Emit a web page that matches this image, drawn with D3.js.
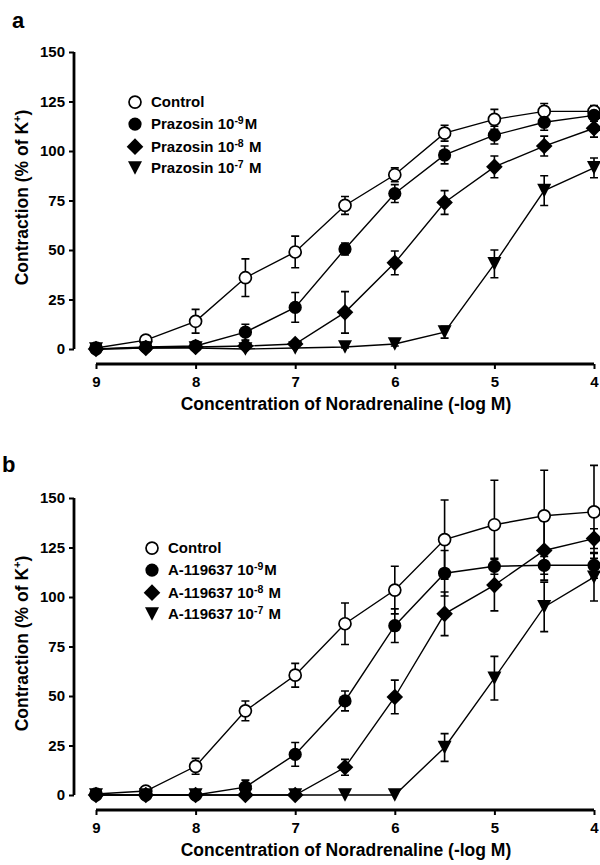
<!DOCTYPE html>
<html>
<head>
<meta charset="utf-8">
<script src="https://cdn.jsdelivr.net/npm/d3@7"></script>
<style>
  html, body { margin: 0; padding: 0; background: #fff; }
  svg { display: block; }
  text { font-family: Arial, "Liberation Sans", Helvetica, sans-serif; font-weight: bold; fill: #000; }
</style>
</head>
<body>
<script>
// ---------- data ----------
const logConc = [9, 8.5, 8, 7.5, 7, 6.5, 6, 5.5, 5, 4.5, 4];
const xTicks = [9, 8, 7, 6, 5, 4];
const yTicks = [0, 25, 50, 75, 100, 125, 150];

// Panel a: Prazosin
const aControl    = [0.5, 4.5, 14, 36, 49, 72.5, 88, 109, 116, 120, 120];
const aControlErr = [0.5, 1, 6, 9.5, 8, 4.5, 3.5, 4, 5, 4, 3];
const aPraz9      = [0, 1, 1.5, 8.5, 21, 50.5, 78.5, 98, 108, 114.5, 118];
const aPraz9Err   = [0, 0.5, 1, 4, 7.5, 3, 4.5, 4.5, 4.5, 4, 3];
const aPraz8      = [0, 0.5, 1, 1.5, 2.5, 18.5, 43.5, 74, 92, 102.5, 111.5];
const aPraz8Err   = [0, 0, 0.5, 1, 1, 10.5, 6, 6, 5.5, 5, 4.5];
const aPraz7      = [0, 0.5, 0.5, 0, 0.5, 1, 2.5, 8.5, 43, 80, 91.5];
const aPraz7Err   = [0, 0, 0, 0, 0, 0.5, 1, 3, 7, 7.5, 5];

// Panel b: A-119637
const bControl    = [0.5, 2, 14.5, 42.5, 60.5, 86.5, 103.5, 129, 136.5, 141, 143];
const bControlErr = [0, 1, 4, 5, 6, 10.5, 12, 20, 22.5, 23, 23.5];
const bA9         = [0, 0, 0, 4, 20.5, 47.5, 85.5, 112, 115.5, 116, 116];
const bA9Err      = [0, 0, 0, 3.5, 6, 5, 8.5, 11.5, 4, 4.5, 6.5];
const bA8         = [0, 0, 0, 0, 0, 14, 49.5, 91.5, 106, 123.5, 129.5];
const bA8Err      = [0, 0, 0, 0, 0, 4, 8.5, 11, 13, 15, 5];
const bA7         = [0, 0, 0, 0, 0, 0, 0, 24, 59, 95, 110];
const bA7Err      = [0, 0, 0, 0, 0, 0, 0, 7, 11, 12.5, 12];

const aLabels = [["Prazosin 10", "-9", "M"], ["Prazosin 10", "-8", " M"], ["Prazosin 10", "-7", " M"]];
const bLabels = [["A-119637 10", "-9", "M"], ["A-119637 10", "-8", " M"], ["A-119637 10", "-7", " M"]];

// ---------- drawing ----------
const W = 600, H = 865;
const svg = d3.select("body").append("svg").attr("width", W).attr("height", H);

const markerTypes = ["openCircle", "circle", "diamond", "triangle"];

function drawMarker(g, type, cx, cy) {
  if (type === "openCircle") {
    g.append("circle").attr("cx", cx).attr("cy", cy).attr("r", 6)
      .attr("fill", "#fff").attr("stroke", "#000").attr("stroke-width", 1.7);
  } else if (type === "circle") {
    g.append("circle").attr("cx", cx).attr("cy", cy).attr("r", 6.6).attr("fill", "#000");
  } else if (type === "diamond") {
    const d = 8.3;
    g.append("path").attr("d", `M${cx},${cy - d}L${cx + d},${cy}L${cx},${cy + d}L${cx - d},${cy}Z`).attr("fill", "#000");
  } else {
    const hw = 7, hh = 6.8;
    g.append("path").attr("d", `M${cx - hw},${cy - hh}L${cx + hw},${cy - hh}L${cx},${cy + hh}Z`).attr("fill", "#000");
  }
}

function drawPanel(opt) {
  const x = d3.scaleLinear().domain([9, 4]).range([96, 594]);
  const y = d3.scaleLinear().domain([0, 150]).range([opt.y0, opt.y0 - 297]);
  const g = svg.append("g");

  // panel letter
  g.append("text").attr("x", opt.letterX).attr("y", opt.letterY).style("font-size", "22px").text(opt.letter);

  // y axis
  const yAxis = d3.axisLeft(y).tickValues(yTicks).tickSize(5).tickSizeOuter(0).tickPadding(4);
  const ya = g.append("g").attr("transform", "translate(74,0)").call(yAxis);
  ya.select(".domain").attr("stroke", "#000").attr("stroke-width", 2.8)
    .attr("d", `M0,${y(150)}V${y(0)}`);
  ya.selectAll(".tick line").attr("stroke", "#000").attr("stroke-width", 2);
  ya.selectAll(".tick text").style("font-size", "15px").style("font-family", "Arial, 'Liberation Sans', sans-serif").style("font-weight", "bold").attr("fill", "#000");

  // x axis
  const xAxisY = opt.y0 + 15;
  const xAxis = d3.axisBottom(x).tickValues(xTicks).tickSize(5).tickSizeOuter(0).tickPadding(7).tickFormat(d3.format("d"));
  const xa = g.append("g").attr("transform", `translate(0,${xAxisY})`).call(xAxis);
  xa.select(".domain").attr("stroke", "#000").attr("stroke-width", 2.8)
    .attr("d", `M${x(9)},0H${x(4)}`);
  xa.selectAll(".tick line").attr("stroke", "#000").attr("stroke-width", 2);
  xa.selectAll(".tick text").style("font-size", "15px").style("font-family", "Arial, 'Liberation Sans', sans-serif").style("font-weight", "bold").attr("fill", "#000");

  // axis titles
  g.append("text").attr("x", 346).attr("y", xAxisY + 46).attr("text-anchor", "middle")
    .style("font-size", "17.5px").text("Concentration of Noradrenaline (-log M)");
  const yt = g.append("text").attr("transform", `translate(28,${y(75) - 3}) rotate(-90)`)
    .attr("text-anchor", "middle").style("font-size", "17.5px");
  yt.append("tspan").text("Contraction (% of K");
  yt.append("tspan").attr("dy", -7).style("font-size", "11px").text("+");
  yt.append("tspan").attr("dy", 7).text(")");

  // series
  const line = d3.line().x(d => x(d[0])).y(d => y(d[1]));
  const plot = g.append("g");
  opt.series.forEach((s) => {
    const pts = logConc.map((c, i) => [c, s.values[i], s.errors[i]]);
    plot.append("path").attr("d", line(pts)).attr("fill", "none")
      .attr("stroke", "#000").attr("stroke-width", 1.4);
  });
  opt.series.forEach((s) => {
    const pts = logConc.map((c, i) => [c, s.values[i], s.errors[i]]);
    pts.forEach(p => {
      if (p[2] > 0) {
        const cx = x(p[0]), top = y(p[1] + p[2]), bot = y(p[1] - p[2]);
        plot.append("path").attr("d", `M${cx},${top}V${bot}M${cx - 4},${top}H${cx + 4}M${cx - 4},${bot}H${cx + 4}`)
          .attr("stroke", "#000").attr("stroke-width", 1.6).attr("fill", "none");
      }
    });
  });
  opt.series.forEach((s, si) => {
    logConc.forEach((c, i) => drawMarker(plot, markerTypes[si], x(c), y(s.values[i])));
  });

  // legend
  const lg = g.append("g");
  const rowsY = [y(124.7), y(113.6), y(102.2), y(91.4)];
  const names = [["Control", "", ""]].concat(opt.labels);
  names.forEach((n, i) => {
    drawMarker(lg, markerTypes[i], opt.legendX, rowsY[i]);
    const t = lg.append("text").attr("x", opt.legendX + 16).attr("y", rowsY[i] + 5).style("font-size", "15px");
    t.append("tspan").text(n[0]);
    if (n[1]) {
      t.append("tspan").attr("dy", -5).style("font-size", "10.5px").text(n[1]);
      t.append("tspan").attr("dy", 5).attr("dx", 1).text(n[2]);
    }
  });
}

drawPanel({
  y0: 349, letter: "a", letterX: 12, letterY: 28, legendX: 135, labels: aLabels,
  series: [
    {values: aControl, errors: aControlErr},
    {values: aPraz9, errors: aPraz9Err},
    {values: aPraz8, errors: aPraz8Err},
    {values: aPraz7, errors: aPraz7Err}
  ]
});
drawPanel({
  y0: 795, letter: "b", letterX: 2, letterY: 472, legendX: 152, labels: bLabels,
  series: [
    {values: bControl, errors: bControlErr},
    {values: bA9, errors: bA9Err},
    {values: bA8, errors: bA8Err},
    {values: bA7, errors: bA7Err}
  ]
});
</script>
</body>
</html>
